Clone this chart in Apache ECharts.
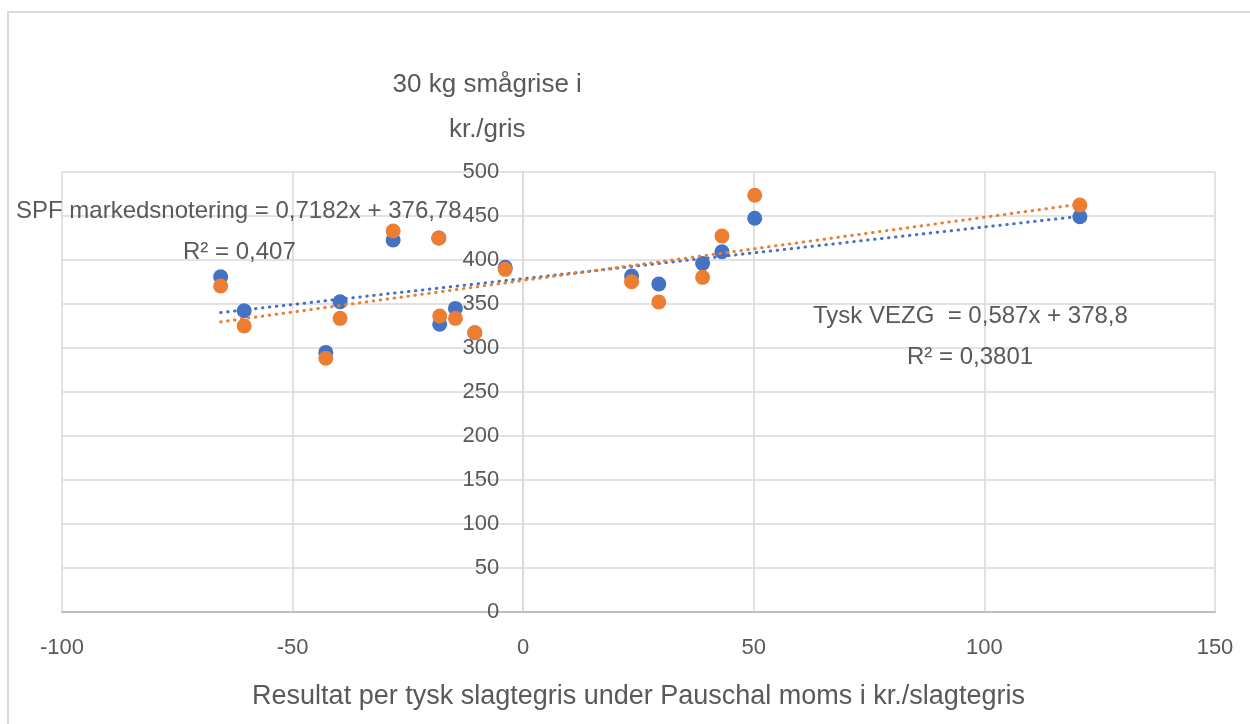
<!DOCTYPE html>
<html>
<head>
<meta charset="utf-8">
<script src="https://cdn.jsdelivr.net/npm/echarts@6/dist/echarts.min.js"></script>
<style>
  html, body { margin: 0; padding: 0; background: #fff; }
  #chart { width: 1250px; height: 724px; }
  .frame {
    position: absolute; left: 7px; top: 11px; right: 0; bottom: 0;
    border-left: 2px solid #d9d9d9; border-top: 2px solid #d9d9d9;
    pointer-events: none;
  }
</style>
</head>
<body>
<div id="chart"></div>
<div class="frame"></div>
<script>
// x: resultat per tysk slagtegris (kr./slagtegris)
const xVals = [-65.6, -60.5, -42.8, -39.7, -28.2, -18.3, -18.1, -14.7, -10.5, -3.9, 23.5, 29.4, 38.9, 43.1, 50.2, 120.7];
// Tysk VEZG (blå)
const vezg = [381, 342.4, 295, 352.6, 422.7, 425, 327, 345, 317.4, 391.7, 381.8, 372.7, 396, 409.4, 447.4, 449.2];
// SPF markedsnotering (orange)
const spf = [370.5, 325, 288.3, 333.7, 433, 425, 336.4, 333.7, 317.4, 389.4, 375.3, 352.3, 380.3, 427.3, 473.5, 462.5];

// tendenslinjer som vist i diagrammet
const trendVezg = { a: 0.587, b: 378.8 };
const trendSpf = { a: 0.7182, b: 376.78 };

const X_MIN = -100, X_MAX = 150;
const xMin = Math.min(...xVals);
const xMax = Math.max(...xVals);

function pairs(ys) {
  return xVals.map((x, i) => [x, ys[i]]);
}
function trend(t) {
  return [[xMin, t.a * xMin + t.b], [xMax, t.a * xMax + t.b]];
}

const BLUE = "#4472C4";
const ORANGE = "#ED7D31";
const TXT = "#595959";
const FONT = "Liberation Sans";

const GRID_LEFT = 62, GRID_RIGHT = 35;
const gridWidth = 1250 - GRID_LEFT - GRID_RIGHT;
// y-aksen står ved x = 0
const yAxisOffset = -gridWidth * (0 - X_MIN) / (X_MAX - X_MIN);

const myChart = echarts.init(document.getElementById("chart"));

const myOption = {
  animation: false,
  textStyle: { fontFamily: FONT },
  grid: { left: GRID_LEFT, right: GRID_RIGHT, top: 172, bottom: 112 },
  xAxis: {
    type: "value",
    min: X_MIN,
    max: X_MAX,
    interval: 50,
    name: "Resultat per tysk slagtegris under Pauschal moms i kr./slagtegris",
    nameLocation: "middle",
    nameGap: 71,
    nameTextStyle: { color: TXT, fontSize: 27, fontFamily: FONT },
    axisLine: { onZero: false, lineStyle: { color: "#bfbfbf", width: 2 } },
    axisTick: { show: false },
    axisLabel: { color: TXT, fontSize: 22, margin: 25, fontFamily: FONT },
    splitLine: { show: true, lineStyle: { color: "#d9d9d9", width: 1.5 } },
  },
  yAxis: {
    type: "value",
    min: 0,
    max: 500,
    interval: 50,
    offset: yAxisOffset,
    name: "30 kg smågrise i\nkr./gris",
    nameLocation: "end",
    nameGap: 20,
    nameTextStyle: {
      color: TXT,
      fontSize: 26,
      fontFamily: FONT,
      align: "center",
      verticalAlign: "bottom",
      lineHeight: 45,
      padding: [0, 72, 0, 0],
    },
    axisLine: { show: true, onZero: false, lineStyle: { color: "#d9d9d9", width: 1.5 } },
    axisTick: { show: false },
    axisLabel: { color: TXT, fontSize: 22, margin: 24, fontFamily: FONT },
    splitLine: { show: true, lineStyle: { color: "#d9d9d9", width: 1.5 } },
  },
  series: [
    {
      name: "Tysk VEZG",
      type: "scatter",
      symbolSize: 15,
      itemStyle: { color: BLUE, opacity: 1 },
      data: pairs(vezg),
      z: 2,
    },
    {
      name: "SPF markedsnotering",
      type: "scatter",
      symbolSize: 15,
      itemStyle: { color: ORANGE, opacity: 1 },
      data: pairs(spf),
      z: 3,
    },
    {
      name: "Tendens VEZG",
      type: "line",
      symbol: "none",
      lineStyle: { color: BLUE, width: 3, type: [0.5, 6.5], cap: "round" },
      data: trend(trendVezg),
      z: 4,
    },
    {
      name: "Tendens SPF",
      type: "line",
      symbol: "none",
      lineStyle: { color: ORANGE, width: 3, type: [0.5, 6.5], cap: "round" },
      data: trend(trendSpf),
      z: 5,
    },
  ],
  graphic: [
    {
      type: "text", left: 16, top: 199, z: 10,
      style: { text: "SPF markedsnotering = 0,7182x + 376,78", fill: TXT, font: "24px Liberation Sans" },
    },
    {
      type: "text", left: 183, top: 240, z: 10,
      style: { text: "R² = 0,407", fill: TXT, font: "24px Liberation Sans" },
    },
    {
      type: "text", left: 813, top: 304, z: 10,
      style: { text: "Tysk VEZG  = 0,587x + 378,8", fill: TXT, font: "24px Liberation Sans" },
    },
    {
      type: "text", left: 907, top: 345, z: 10,
      style: { text: "R² = 0,3801", fill: TXT, font: "24px Liberation Sans" },
    },
  ],
};

myChart.setOption(myOption);
</script>
</body>
</html>
